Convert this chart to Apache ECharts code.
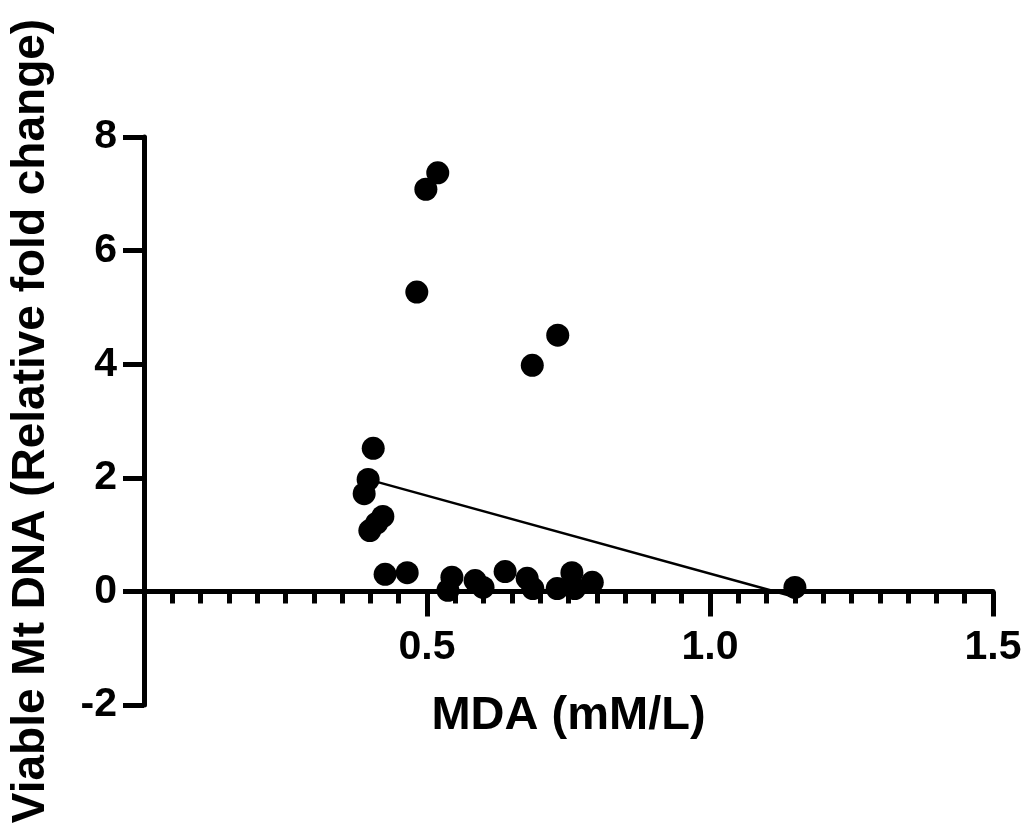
<!DOCTYPE html>
<html>
<head>
<meta charset="utf-8">
<script src="https://cdn.jsdelivr.net/npm/echarts@6/dist/echarts.min.js"></script>
<style>html,body{margin:0;padding:0;background:#fff}#c{width:1027px;height:825px}</style>
</head>
<body>
<div id="c"></div>
<script>
const mdaX = [0.519, 0.498, 0.482, 0.731, 0.686, 0.405, 0.396, 0.389, 0.422, 0.411, 0.399, 0.426, 0.465, 0.544, 0.537, 0.585, 0.599, 0.638, 0.677, 0.687, 0.730, 0.756, 0.761, 0.792, 1.150];
const mtDNA = [7.37, 7.08, 5.27, 4.51, 3.98, 2.52, 1.97, 1.72, 1.32, 1.20, 1.07, 0.30, 0.33, 0.25, 0.02, 0.19, 0.07, 0.35, 0.23, 0.05, 0.05, 0.33, 0.05, 0.16, 0.07];
const fitX = [0.389, 1.150];
const fitY = [1.99, -0.10];
const xTicks = [0.5, 1.0, 1.5];
const yTicks = [-2, 0, 2, 4, 6, 8];

const pts = mdaX.map((x, i) => [x, mtDNA[i]]);
const fit = fitX.map((x, i) => [x, fitY[i]]);
const font = '"Liberation Sans", Arial, sans-serif';

const chart = echarts.init(document.getElementById('c'));
chart.setOption({
  animation: false,
  backgroundColor: '#fff',
  grid: { left: 144, right: 34, top: 137, bottom: 120, containLabel: false, outerBoundsMode: 'none' },
  xAxis: {
    type: 'value', min: 0, max: 1.5, interval: 0.5,
    name: 'MDA (mM/L)', nameLocation: 'middle', nameGap: -12,
    nameTextStyle: { fontFamily: font, fontWeight: 'bold', fontSize: 47, color: '#000' },
    axisLine: { onZero: true, lineStyle: { color: '#000', width: 5 } },
    axisTick: { show: true, length: 25, lineStyle: { color: '#000', width: 5 } },
    minorTick: { show: true, splitNumber: 10, length: 12, lineStyle: { color: '#000', width: 5 } },
    axisLabel: {
      margin: -78, fontFamily: font, fontWeight: 'bold', fontSize: 41, color: '#000',
      formatter: v => (xTicks.includes(+v.toFixed(2)) ? v.toFixed(1) : '')
    },
    splitLine: { show: false }
  },
  yAxis: {
    type: 'value', min: -2, max: 8, interval: 2,
    name: 'Viable Mt DNA (Relative fold change)', nameLocation: 'middle', nameGap: 90,
    nameTextStyle: { fontFamily: font, fontWeight: 'bold', fontSize: 46, color: '#000' },
    axisLine: { show: true, onZero: false, lineStyle: { color: '#000', width: 5 } },
    axisTick: { show: true, length: 21, lineStyle: { color: '#000', width: 5 } },
    axisLabel: {
      margin: 27, fontFamily: font, fontWeight: 'bold', fontSize: 41, color: '#000',
      formatter: v => (yTicks.includes(v) ? String(v) : '')
    },
    splitLine: { show: false }
  },
  series: [
    {
      type: 'line', data: fit, symbol: 'none', silent: true,
      lineStyle: { color: '#000', width: 2.5 }, z: 3
    },
    {
      type: 'scatter', data: pts, symbol: 'circle', symbolSize: 23,
      itemStyle: { color: '#000', opacity: 1 }, z: 4
    }
  ]
});
</script>
</body>
</html>
